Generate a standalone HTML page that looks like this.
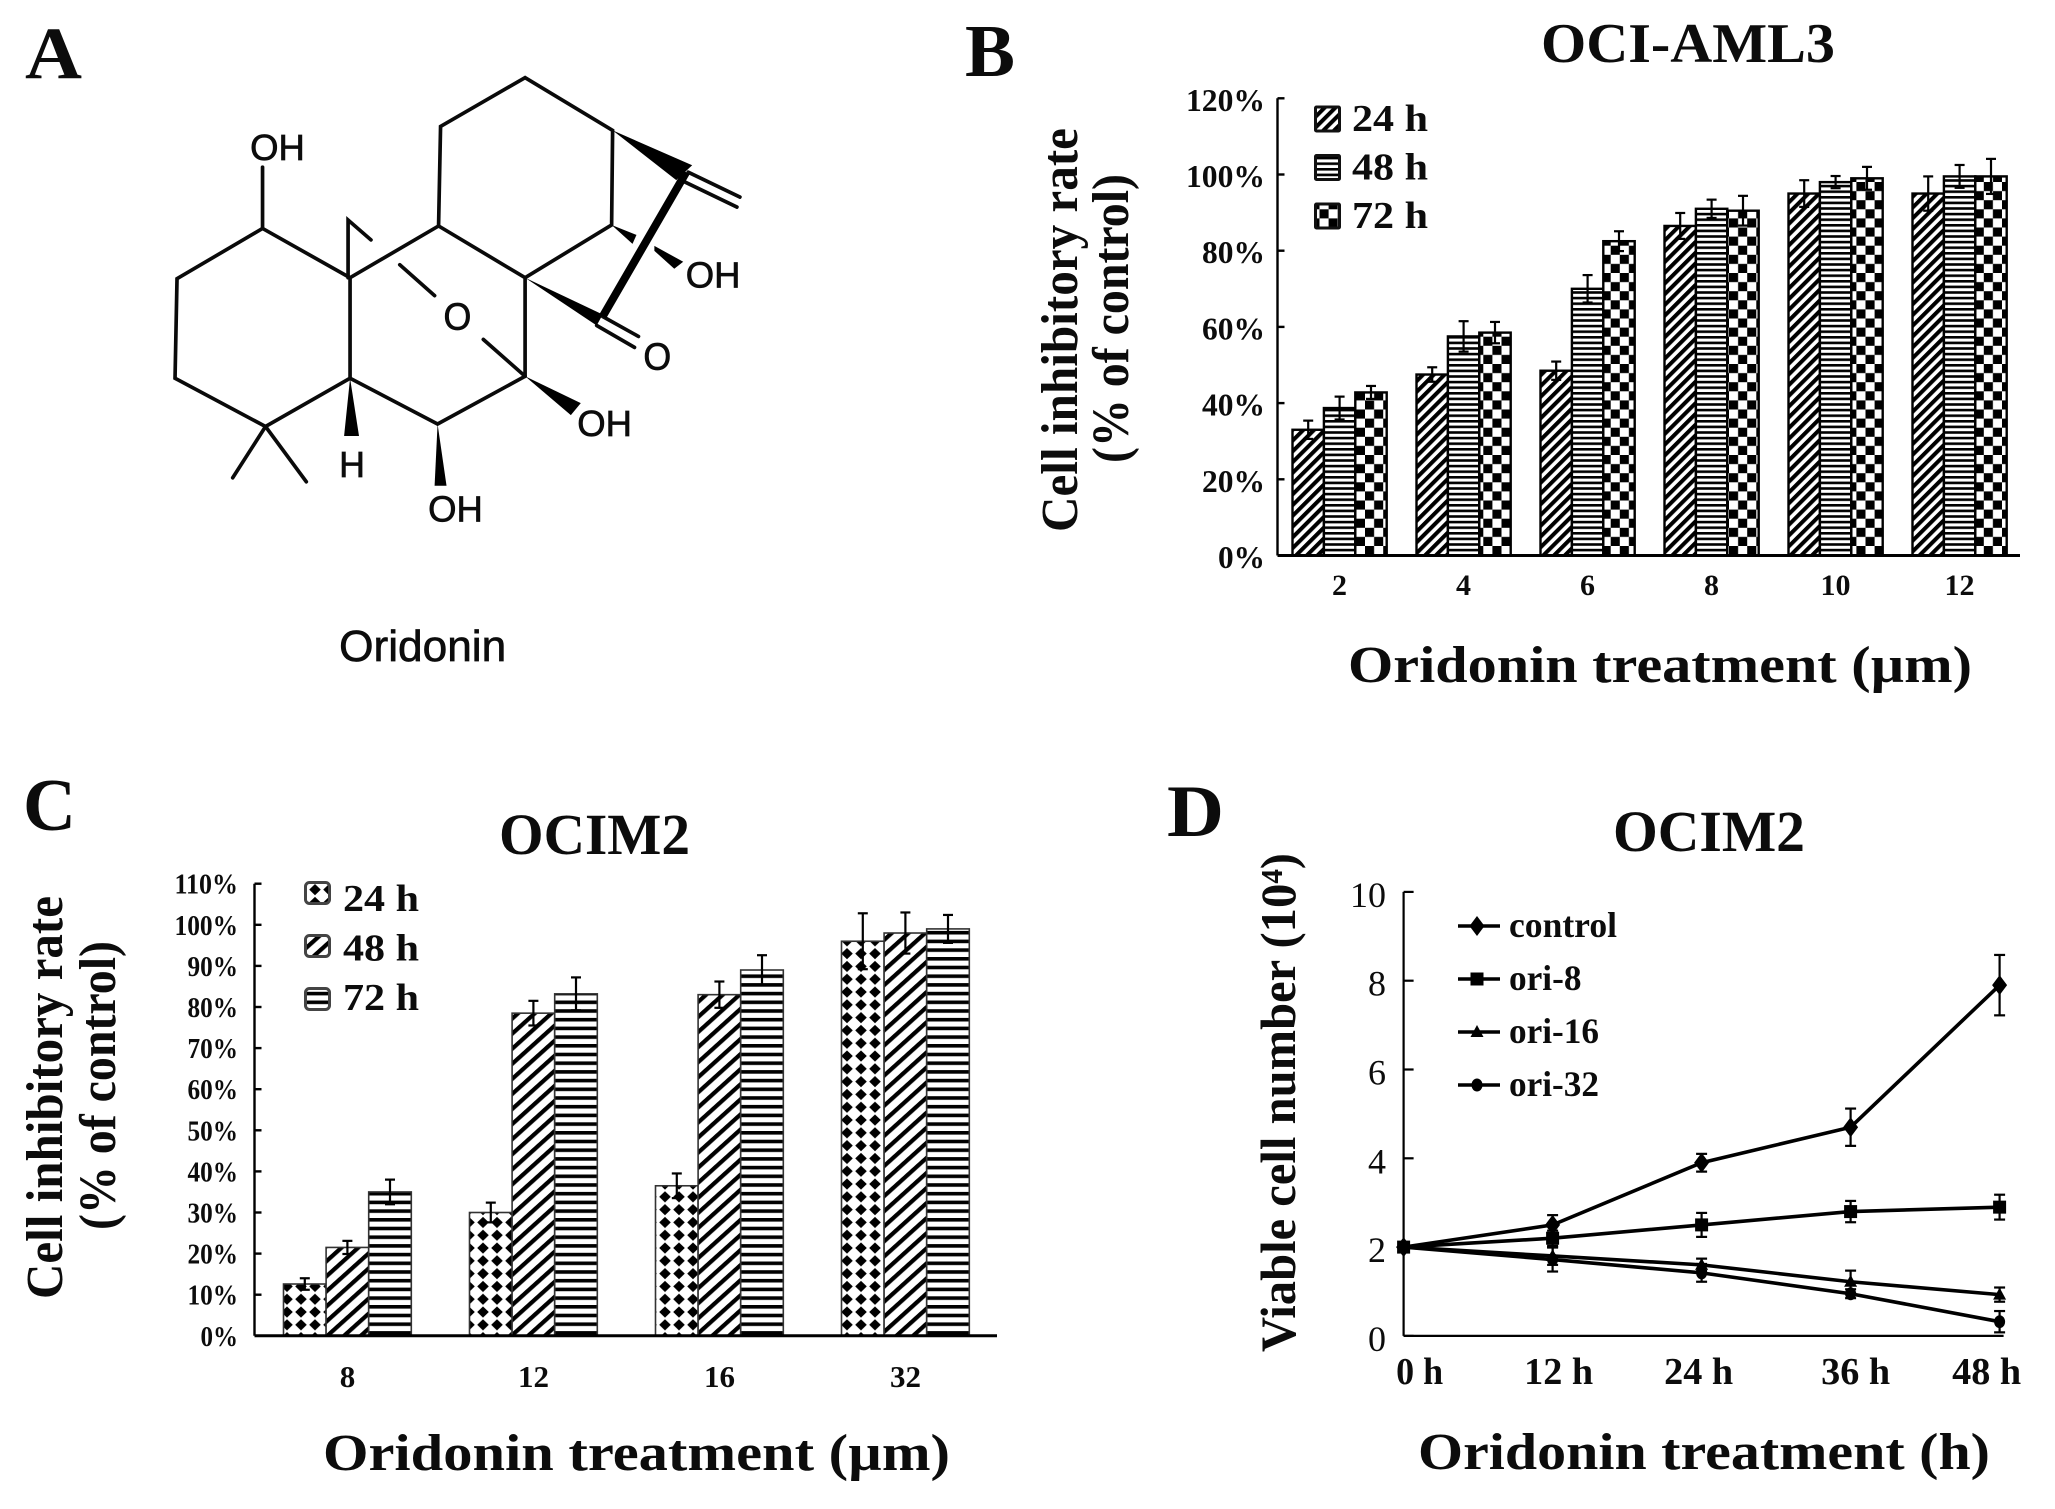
<!DOCTYPE html>
<html lang="en">
<head>
<meta charset="utf-8">
<title>Oridonin figure</title>
<style>
html,body{margin:0;padding:0;background:#fff;}
svg{display:block;}
text{font-family:"Liberation Serif",serif;fill:#0c0c0c;}
.bold{font-weight:bold;}
.sans{font-family:"Liberation Sans",sans-serif;stroke:#0c0c0c;stroke-width:0.7;}
.bond{stroke:#0a0a0a;stroke-width:3.7;fill:none;stroke-linecap:round;}
</style>
</head>
<body>
<svg id="figure" xmlns="http://www.w3.org/2000/svg" width="2055" height="1509" viewBox="0 0 2055 1509">
  <defs>
    <pattern id="b24" width="7.6" height="7.6" patternUnits="userSpaceOnUse" patternTransform="rotate(45)"><rect width="7.6" height="7.6" fill="#fff"/><rect width="4" height="7.6" fill="#000"/></pattern>
    <pattern id="b48" width="6" height="5.6" patternUnits="userSpaceOnUse"><rect width="6" height="5.6" fill="#fff"/><rect width="6" height="2.6" fill="#000"/></pattern>
    <pattern id="b72" width="18.2" height="18.2" patternUnits="userSpaceOnUse"><rect width="18.2" height="18.2" fill="#fff"/><rect width="9.1" height="9.1" fill="#000"/><rect x="9.1" y="9.1" width="9.1" height="9.1" fill="#000"/></pattern>
    <pattern id="c24" width="14" height="12.8" patternUnits="userSpaceOnUse"><rect width="14" height="12.8" fill="#fff"/><polygon points="7,0.8 12.8,6.4 7,12 1.2,6.4" fill="#000"/></pattern>
    <pattern id="c48" width="11.2" height="11.2" patternUnits="userSpaceOnUse" patternTransform="rotate(48)"><rect width="11.2" height="11.2" fill="#fff"/><rect width="4.2" height="11.2" fill="#000"/></pattern>
    <pattern id="c72" width="8.7" height="8.7" patternUnits="userSpaceOnUse"><rect width="8.7" height="8.7" fill="#fff"/><rect width="8.7" height="3.6" fill="#000"/></pattern>
  </defs>

  <text class="bold" x="25" y="78" font-size="74" textLength="57" lengthAdjust="spacingAndGlyphs">A</text>
  <text class="bold" x="965" y="76" font-size="74" textLength="50" lengthAdjust="spacingAndGlyphs">B</text>
  <text class="bold" x="23" y="830" font-size="74" textLength="53" lengthAdjust="spacingAndGlyphs">C</text>
  <text class="bold" x="1167" y="836" font-size="74" textLength="57" lengthAdjust="spacingAndGlyphs">D</text>

  <g transform="scale(0.9945,0.9954)">
    <g class="bond">
      <polyline points="264,229.5 178,280 176,380 267,428.5 352,380 352,279 264,229.5"/>
      <line x1="264" y1="229.5" x2="264" y2="168"/>
      <polyline points="352,279 441,227 528,279 528,378 440,426 352,380"/>
      <polyline points="441,227 443,127 528,78 616,131 615,226 528,279"/>
      <polyline points="350,279 350,221 373,241"/>
      <line x1="402" y1="266" x2="437" y2="297"/>
      <line x1="486" y1="341" x2="528" y2="378"/>
      <line x1="692" y1="173" x2="744" y2="198"/>
      <line x1="687" y1="182" x2="741" y2="208"/>
      <line x1="606" y1="318" x2="642" y2="338"/>
      <line x1="600" y1="327" x2="638" y2="349"/>
      <line x1="267" y1="428.5" x2="234" y2="480"/>
      <line x1="267" y1="428.5" x2="308" y2="484"/>
    </g>
    <line x1="690" y1="173" x2="606" y2="318" stroke="#000" stroke-width="8"/>
    <g fill="#000">
      <polygon points="616,131 696,166 680,181"/>
      <polygon points="528,279 606,316 600,327"/>
      <polygon points="615,226 640,236 636,245"/>
      <polygon points="658,247 687,263 678,270 658,252"/>
      <polygon points="528,378 584,405 574,417"/>
      <polygon points="352,380 361,438 346,438"/>
      <polygon points="440,426 449,488 437,488"/>
    </g>
    <g font-size="35" text-anchor="middle">
      <text class="sans" x="279" y="161" text-anchor="middle" font-size="36" textLength="55" lengthAdjust="spacingAndGlyphs">OH</text>
      <text class="sans" x="717" y="289" text-anchor="middle" font-size="36" textLength="55" lengthAdjust="spacingAndGlyphs">OH</text>
      <text class="sans" x="460" y="331" text-anchor="middle" font-size="38" textLength="28" lengthAdjust="spacingAndGlyphs">O</text>
      <text class="sans" x="661" y="371" text-anchor="middle" font-size="38" textLength="28" lengthAdjust="spacingAndGlyphs">O</text>
      <text class="sans" x="608" y="438" text-anchor="middle" font-size="36" textLength="55" lengthAdjust="spacingAndGlyphs">OH</text>
      <text class="sans" x="354" y="479" text-anchor="middle" font-size="36">H</text>
      <text class="sans" x="458" y="524" text-anchor="middle" font-size="36" textLength="55" lengthAdjust="spacingAndGlyphs">OH</text>
    </g>
    <text class="sans" x="425" y="664" text-anchor="middle" font-size="44" textLength="168" lengthAdjust="spacingAndGlyphs">Oridonin</text>
  </g>

  <g id="panel-b"></g>
  <g id="panel-c"></g>
  <g id="panel-d"></g>

  <text class="bold" x="1541" y="62" font-size="56" textLength="294" lengthAdjust="spacingAndGlyphs">OCI-AML3</text>
  <text class="bold" x="1348" y="682" font-size="52" textLength="624" lengthAdjust="spacingAndGlyphs">Oridonin treatment (µm)</text>
  <text class="bold" transform="translate(1077,532) rotate(-90)" font-size="52" textLength="404" lengthAdjust="spacingAndGlyphs">Cell inhibitory rate</text>
  <text class="bold" transform="translate(1128,463) rotate(-90)" font-size="52" textLength="289" lengthAdjust="spacingAndGlyphs">(% of control)</text>

  <text class="bold" x="499" y="854" font-size="58" textLength="191" lengthAdjust="spacingAndGlyphs">OCIM2</text>
  <text class="bold" x="323" y="1470" font-size="52" textLength="627" lengthAdjust="spacingAndGlyphs">Oridonin treatment (µm)</text>
  <text class="bold" transform="translate(62,1299) rotate(-90)" font-size="52" textLength="403" lengthAdjust="spacingAndGlyphs">Cell inhibitory rate</text>
  <text class="bold" transform="translate(115,1230) rotate(-90)" font-size="52" textLength="289" lengthAdjust="spacingAndGlyphs">(% of control)</text>

  <text class="bold" x="1613" y="851" font-size="58" textLength="192" lengthAdjust="spacingAndGlyphs">OCIM2</text>
  <text class="bold" x="1418" y="1469" font-size="52" textLength="572" lengthAdjust="spacingAndGlyphs">Oridonin treatment (h)</text>
  <text class="bold" transform="translate(1295,1352) rotate(-90)" font-size="50" textLength="499" lengthAdjust="spacingAndGlyphs">Viable  cell number (10⁴)</text>
</svg>

<script>
// Panel B data
var bCategories = ['2', '4', '6', '8', '10', '12'];
var bTickValues = [0, 20, 40, 60, 80, 100, 120];
var bLegendLabels = ['24 h', '48 h', '72 h'];
var bValues24 = [33, 47.5, 48.5, 86.5, 95, 95];
var bValues48 = [38.7, 57.5, 70, 91, 98, 99.5];
var bValues72 = [42.8, 58.5, 82.5, 90.5, 99, 99.5];
var bErrors24 = [2.4, 1.9, 2.4, 3.4, 3.5, 4.5];
var bErrors48 = [3, 4, 3.6, 2.4, 1.6, 3];
var bErrors72 = [1.7, 2.8, 2.6, 3.9, 3, 4.6];

// Panel C data
var cCategories = ['8', '12', '16', '32'];
var cTickValues = [0, 10, 20, 30, 40, 50, 60, 70, 80, 90, 100, 110];
var cLegendLabels = ['24 h', '48 h', '72 h'];
var cValues24 = [12.6, 30, 36.5, 96];
var cValues48 = [21.5, 78.5, 83, 98];
var cValues72 = [35, 83.2, 89, 99];
var cErrors24 = [1.4, 2.4, 3, 6.8];
var cErrors48 = [1.6, 3, 3.2, 5];
var cErrors72 = [3, 4, 3.6, 3.4];

// Panel D data
var dTimeLabels = ['0 h', '12 h', '24 h', '36 h', '48 h'];
var dTickValues = [0, 2, 4, 6, 8, 10];
var dControl = [2, 2.5, 3.9, 4.7, 7.9];
var dOri8 = [2, 2.2, 2.5, 2.8, 2.9];
var dOri16 = [2, 1.8, 1.6, 1.22, 0.93];
var dOri32 = [2, 1.72, 1.42, 0.95, 0.32];
var dControlErr = [0, 0.22, 0.2, 0.42, 0.68];
var dOri8Err = [0, 0.17, 0.27, 0.24, 0.28];
var dOri16Err = [0, 0.2, 0.14, 0.25, 0.16];
var dOri32Err = [0, 0.27, 0.2, 0.1, 0.24];

var NS = 'http://www.w3.org/2000/svg';

function make(tag, attrs, parent) {
  var e = document.createElementNS(NS, tag);
  for (var k in attrs) { e.setAttribute(k, attrs[k]); }
  parent.appendChild(e);
  return e;
}

function segment(parent, x1, y1, x2, y2, width) {
  return make('line', { x1: x1, y1: y1, x2: x2, y2: y2, stroke: '#000', 'stroke-width': width }, parent);
}

function errorBar(parent, x, yUp, yDown, halfCap, width) {
  var g = make('g', {}, parent);
  
  
  segment(g, x, yUp, x, yDown, width);
  segment(g, x - halfCap, yUp, x + halfCap, yUp, width);
  segment(g, x - halfCap, yDown, x + halfCap, yDown, width);
}

function drawBarPanel(root, opts, categories, ticks, legend, values, errors) {
  var y = function (v) { return opts.y0 - v * opts.yPerUnit; };
  var groupX = function (i) { return opts.x0 + i * opts.groupStep; };

  categories.forEach(function (cat, i) {
    values.forEach(function (series, s) {
      var left = groupX(i) + s * opts.barW;
      var top = y(series[i]);
      var bar = make('rect', { x: left, y: top, width: opts.barW, height: opts.y0 - top, fill: 'url(#' + opts.patterns[s] + ')', stroke: opts.barStroke, 'stroke-width': opts.barStrokeW }, root);
      
      
    });
  });
  categories.forEach(function (cat, i) {
    values.forEach(function (series, s) {
      var cx = groupX(i) + (s + 0.5) * opts.barW;
      errorBar(root, cx, y(series[i] + errors[s][i]), y(series[i] - errors[s][i]), 5, 2.2);
    });
  });

  var yAxis = segment(root, opts.axisX, y(ticks[ticks.length - 1]), opts.axisX, opts.y0, 2.4);
  
  
  var xAxis = segment(root, opts.axisX, opts.y0, opts.axisEnd, opts.y0, 3);
  
  

  ticks.forEach(function (t) {
    var mark = segment(root, opts.axisX, y(t), opts.axisX + 7, y(t), 2.4);
    
    
    var str = t + '%';
    var label = make('text', { x: opts.tickRight, y: y(t) + opts.tickDy, 'text-anchor': 'end', 'font-size': opts.tickFont, 'class': 'bold', textLength: opts.tickBase + (String(t).length - 1) * opts.tickDigit, lengthAdjust: 'spacingAndGlyphs' }, root);
    label.textContent = str;
    
    
  });

  categories.forEach(function (cat, i) {
    var label = make('text', { x: groupX(i) + opts.catDx, y: opts.catY, 'text-anchor': 'middle', 'font-size': opts.catFont, 'class': 'bold' }, root);
    label.textContent = cat;
    
    
  });

  legend.forEach(function (name, s) {
    var rowY = opts.legendY + s * opts.legendStep;
    var swatch = make('rect', { x: opts.legendX, y: rowY, width: opts.swatchW, height: opts.swatchH, rx: opts.swatchR, fill: 'url(#' + opts.patterns[s] + ')', stroke: opts.swatchStroke, 'stroke-width': 3 }, root);
    
    
    var label = make('text', { x: opts.legendTextX, y: opts.legendTextY + s * opts.legendTextStep, 'font-size': 38, 'class': 'bold', textLength: 76, lengthAdjust: 'spacingAndGlyphs' }, root);
    label.textContent = name;
    
    
  });
}

drawBarPanel(document.getElementById('panel-b'), {
  x0: 1292.5, groupStep: 124, barW: 31.4, y0: 555.5, yPerUnit: 3.81,
  axisX: 1277.5, axisEnd: 2020, tickRight: 1265, tickDy: 12.5, tickFont: 32, tickBase: 47, tickDigit: 16,
  catDx: 47, catY: 595, catFont: 30, patterns: ['b24', 'b48', 'b72'], barStroke: '#000', barStrokeW: 2.4,
  legendX: 1315.5, legendY: 107, legendStep: 48.5, swatchW: 24, swatchH: 24, swatchR: 1, swatchStroke: '#111',
  legendTextX: 1352, legendTextY: 131, legendTextStep: 48.5
}, bCategories, bTickValues, bLegendLabels, [bValues24, bValues48, bValues72], [bErrors24, bErrors48, bErrors72]);

drawBarPanel(document.getElementById('panel-c'), {
  x0: 283.5, groupStep: 186, barW: 42.6, y0: 1335.8, yPerUnit: 4.11,
  axisX: 254.5, axisEnd: 997, tickRight: 238, tickDy: 10, tickFont: 28, tickBase: 37.5, tickDigit: 13,
  catDx: 64, catY: 1387, catFont: 31, patterns: ['c24', 'c48', 'c72'], barStroke: '#333', barStrokeW: 1.6,
  legendX: 305.5, legendY: 882.5, legendStep: 53, swatchW: 24, swatchH: 21, swatchR: 4, swatchStroke: '#444',
  legendTextX: 343, legendTextY: 911, legendTextStep: 49.5
}, cCategories, cTickValues, cLegendLabels, [cValues24, cValues48, cValues72], [cErrors24, cErrors48, cErrors72]);

(function () {
  var root = document.getElementById('panel-d');
  var x = function (i) { return 1403.6 + i * 149; };
  var y = function (v) { return 1335.9 - v * 44.4; };
  var labelNudge = function (i) { return [16, 6, -3, 5, -13][i]; };

  var yAxis = segment(root, x(0), y(10), x(0), y(0), 2.2);
  
  
  var xAxis = segment(root, x(0), y(0), x(4) + 4, y(0), 2.2);
  
  

  dTickValues.forEach(function (t) {
    var mark = segment(root, x(0), y(t), x(0) + 10, y(t), 2.2);
    
    
    var label = make('text', { x: 1386, y: y(t) + 15, 'text-anchor': 'end', 'font-size': 36 }, root);
    label.textContent = String(t);
    
    
  });

  dTimeLabels.forEach(function (t, i) {
    var label = make('text', { x: x(i) + labelNudge(i), y: 1384, 'text-anchor': 'middle', 'font-size': 38, 'class': 'bold', textLength: (t.length === 3 ? 47 : 69), lengthAdjust: 'spacingAndGlyphs' }, root);
    label.textContent = t;
    
    
  });

  function marker(parent, kind, cx, cy) {
    var m;
    if (kind === 'diamond') {
      m = make('polygon', { points: (cx) + ',' + (cy - 10) + ' ' + (cx + 7.5) + ',' + cy + ' ' + (cx) + ',' + (cy + 10) + ' ' + (cx - 7.5) + ',' + cy, fill: '#000' }, parent);
    } else if (kind === 'square') {
      m = make('rect', { x: cx - 6.5, y: cy - 6.5, width: 13, height: 13, fill: '#000' }, parent);
    } else if (kind === 'triangle') {
      m = make('polygon', { points: cx + ',' + (cy - 7) + ' ' + (cx + 6.5) + ',' + (cy + 5) + ' ' + (cx - 6.5) + ',' + (cy + 5), fill: '#000' }, parent);
    } else {
      m = make('ellipse', { cx: cx, cy: cy, rx: 5.5, ry: 6.5, fill: '#000' }, parent);
    }
    
    
  }

  var seriesList = [
    { name: 'control', kind: 'diamond', values: dControl, errors: dControlErr, width: 108 },
    { name: 'ori-8', kind: 'square', values: dOri8, errors: dOri8Err, width: 72.5 },
    { name: 'ori-16', kind: 'triangle', values: dOri16, errors: dOri16Err, width: 90 },
    { name: 'ori-32', kind: 'circle', values: dOri32, errors: dOri32Err, width: 90 }
  ];

  seriesList.forEach(function (s, idx) {
    var g = make('g', {}, root);
    
    
    var pts = s.values.map(function (v, i) { return x(i) + ',' + y(v); }).join(' ');
    var line = make('polyline', { points: pts, fill: 'none', stroke: '#000', 'stroke-width': 3.6 }, g);
    
    
    s.values.forEach(function (v, i) {
      if (s.errors[i] > 0) {
        errorBar(g, x(i), y(v + s.errors[i]), y(v - s.errors[i]), 5.5, 2.2);
      }
      marker(g, s.kind, x(i), y(v));
    });

    var rowY = 926 + idx * 53;
    var legendLine = segment(root, 1458, rowY, 1500, rowY, 3.6);
    
    
    marker(root, s.kind, 1477, rowY);
    var text = make('text', { x: 1509, y: rowY + 11, 'font-size': 36, 'class': 'bold', textLength: s.width, lengthAdjust: 'spacingAndGlyphs' }, root);
    text.textContent = s.name;
    
    
  });
})();
</script>
</body>
</html>
